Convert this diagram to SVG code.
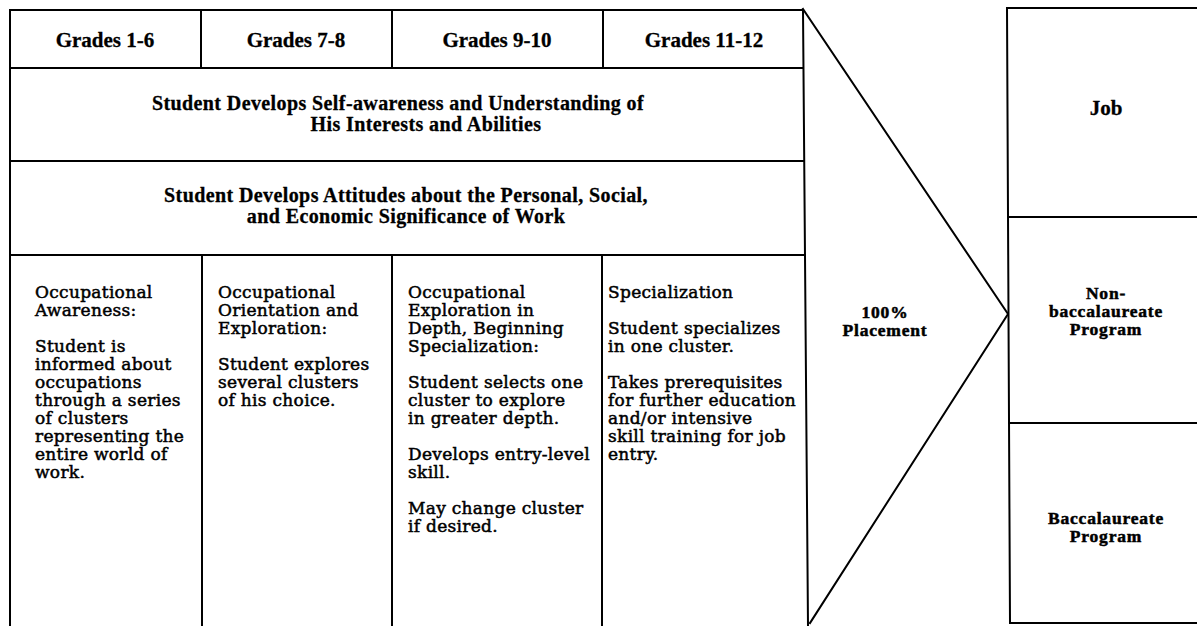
<svg xmlns="http://www.w3.org/2000/svg" width="1197" height="626" viewBox="0 0 1197 626">
  <style>
    .ln { stroke: #000; stroke-width: 2; fill: none; stroke-linecap: square; }
    .hd { font-family: "Liberation Serif", "Times New Roman", serif; font-weight: bold; font-size: 21px; fill: #000; stroke: #000; stroke-width: 0.3; text-anchor: middle; }
    .band { font-size: 20px; letter-spacing: 0.4px; }
    .stack { font-size: 17.5px; letter-spacing: 0.8px; stroke-width: 0.5; }
    .bd { font-family: "DejaVu Serif", "Liberation Serif", serif; font-size: 17px; letter-spacing: 0.3px; fill: #000; stroke: #000; stroke-width: 0.5; }
  </style>
  <rect width="1197" height="626" fill="#fff"/>

  <!-- table frame and cell rules -->
  <g id="grid">
    <path class="ln" d="M10 10 H803 M10 10 V626 M803 10 L808 626"/>
    <path class="ln" d="M10 68 H803 M10 161 H804 M10 255 H805"/>
    <path class="ln" d="M201 10 V68 M392 10 V68 M603 10 V68"/>
    <path class="ln" d="M202 255 V626 M392 255 V626 M602 255 V626"/>
  </g>

  <!-- funnel into placement -->
  <g id="connectors">
    <path class="ln" d="M803 9 L1008 314 L810 623"/>
  </g>

  <!-- outcome column frame -->
  <g id="outcomes-frame">
    <path class="ln" d="M1007 8 H1200 M1007 8 L1010 623 H1200 M1008 217 H1200 M1009 423 H1200"/>
  </g>

  <g id="grade-1-6"><text class="hd" x="105" y="47">Grades 1-6</text></g>
  <g id="grade-7-8"><text class="hd" x="296" y="47">Grades 7-8</text></g>
  <g id="grade-9-10"><text class="hd" x="497" y="47">Grades 9-10</text></g>
  <g id="grade-11-12"><text class="hd" x="704" y="47">Grades 11-12</text></g>

  <g id="self-awareness">
    <text class="hd band" y="110"><tspan x="398">Student Develops Self-awareness and Understanding of</tspan><tspan x="426" dy="21">His Interests and Abilities</tspan></text>
  </g>

  <g id="attitudes">
    <text class="hd band" y="202"><tspan x="406">Student Develops Attitudes about the Personal, Social,</tspan><tspan x="406" dy="21">and Economic Significance of Work</tspan></text>
  </g>

  <g id="awareness">
    <text class="bd" y="298">
      <tspan x="35">Occupational</tspan>
      <tspan x="35" dy="18">Awareness:</tspan>
      <tspan x="35" dy="36">Student is</tspan>
      <tspan x="35" dy="18">informed about</tspan>
      <tspan x="35" dy="18">occupations</tspan>
      <tspan x="35" dy="18">through a series</tspan>
      <tspan x="35" dy="18">of clusters</tspan>
      <tspan x="35" dy="18">representing the</tspan>
      <tspan x="35" dy="18">entire world of</tspan>
      <tspan x="35" dy="18">work.</tspan>
    </text>
  </g>

  <g id="orientation">
    <text class="bd" y="298">
      <tspan x="218">Occupational</tspan>
      <tspan x="218" dy="18">Orientation and</tspan>
      <tspan x="218" dy="18">Exploration:</tspan>
      <tspan x="218" dy="36">Student explores</tspan>
      <tspan x="218" dy="18">several clusters</tspan>
      <tspan x="218" dy="18">of his choice.</tspan>
    </text>
  </g>

  <g id="exploration">
    <text class="bd" y="298">
      <tspan x="408">Occupational</tspan>
      <tspan x="408" dy="18">Exploration in</tspan>
      <tspan x="408" dy="18">Depth, Beginning</tspan>
      <tspan x="408" dy="18">Specialization:</tspan>
      <tspan x="408" dy="36">Student selects one</tspan>
      <tspan x="408" dy="18">cluster to explore</tspan>
      <tspan x="408" dy="18">in greater depth.</tspan>
      <tspan x="408" dy="36">Develops entry-level</tspan>
      <tspan x="408" dy="18">skill.</tspan>
      <tspan x="408" dy="36">May change cluster</tspan>
      <tspan x="408" dy="18">if desired.</tspan>
    </text>
  </g>

  <g id="specialization">
    <text class="bd" y="298">
      <tspan x="608">Specialization</tspan>
      <tspan x="608" dy="36">Student specializes</tspan>
      <tspan x="608" dy="18">in one cluster.</tspan>
      <tspan x="608" dy="36">Takes prerequisites</tspan>
      <tspan x="608" dy="18">for further education</tspan>
      <tspan x="608" dy="18">and/or intensive</tspan>
      <tspan x="608" dy="18">skill training for job</tspan>
      <tspan x="608" dy="18">entry.</tspan>
    </text>
  </g>

  <g id="placement">
    <text class="hd stack" y="318"><tspan x="885">100%</tspan><tspan x="885" dy="18">Placement</tspan></text>
  </g>

  <g id="job"><text class="hd" x="1106" y="115">Job</text></g>

  <g id="non-baccalaureate">
    <text class="hd stack" y="299"><tspan x="1106">Non-</tspan><tspan x="1106" dy="18">baccalaureate</tspan><tspan x="1106" dy="18">Program</tspan></text>
  </g>

  <g id="baccalaureate">
    <text class="hd stack" y="524"><tspan x="1106">Baccalaureate</tspan><tspan x="1106" dy="18">Program</tspan></text>
  </g>
</svg>
